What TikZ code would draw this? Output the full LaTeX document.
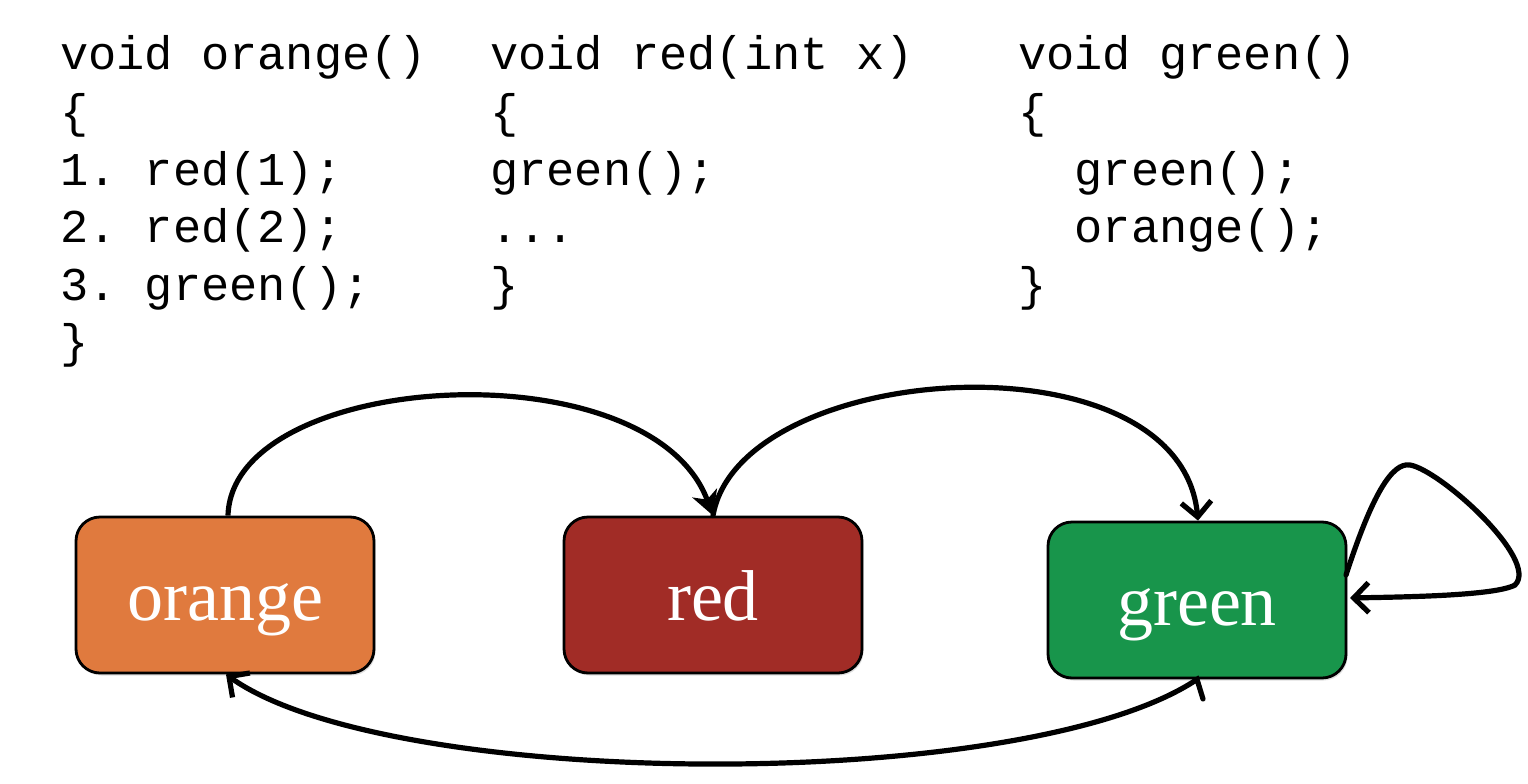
\documentclass[tikz,border=0pt]{standalone}
\usepackage{fontspec}
\setmonofont{Liberation Mono}
\newfontfamily\labelfont{Liberation Serif}
\usetikzlibrary{arrows.meta,shadows}
\definecolor{corange}{HTML}{E07A3E}
\definecolor{cred}{HTML}{A12C26}
\definecolor{cgreen}{HTML}{18954B}
\begin{document}
\begin{tikzpicture}[x=1pt,y=-1pt,
  codeline/.style={anchor=base west, inner sep=0pt, font=\ttfamily\fontsize{47}{58}\selectfont},
  fnbox/.style={draw=black, line width=2.8pt, rounded corners=24pt, minimum width=298pt, minimum height=156pt,
    text=white, font=\labelfont\fontsize{72}{80}\selectfont, text height=60pt, text depth=10pt,
    drop shadow={shadow xshift=1.5pt, shadow yshift=-2.5pt, opacity=0.25}},
  callarrow/.style={line width=5.2pt, line cap=round, -{Straight Barb[length=15pt,width=30pt,line width=5.2pt]}},
  callarrowfill/.style={line width=5.2pt, -{Stealth[length=24pt,width=26pt,inset=7pt]}}
]
\useasboundingbox (0,0) rectangle (1528,784);
% code column 1
\node[codeline] (a1) at (60,70) {void orange()};
\node[codeline] (a2) at (60,127.5) {\{};
\node[codeline] (a3) at (60,185) {1. red(1);};
\node[codeline] (a4) at (60,242.5) {2. red(2);};
\node[codeline] (a5) at (60,300) {3. green();};
\node[codeline] (a6) at (60,357.5) {\}};
% code column 2
\node[codeline] (b1) at (490,70) {void red(int x)};
\node[codeline] (b2) at (490,127.5) {\{};
\node[codeline] (b3) at (490,185) {green();};
\node[codeline] (b4) at (490,242.5) {...};
\node[codeline] (b5) at (490,300) {\}};
% code column 3
\node[codeline] (c1) at (1018,70) {void green()};
\node[codeline] (c2) at (1018,127.5) {\{};
\node[codeline] (c3) at (1018,185) {\ \ green();};
\node[codeline] (c4) at (1018,242.5) {\ \ orange();};
\node[codeline] (c5) at (1018,300) {\}};
% boxes
\node[fnbox, fill=corange] (orange) at (225,595) {orange};
\node[fnbox, fill=cred] (red) at (713,595) {red};
\node[fnbox, fill=cgreen] (green) at (1197,600) {green};
% arrows
\draw[callarrowfill] ([xshift=3pt]orange.north) .. controls (232,370) and (650,345) .. (red.north);
\draw[callarrow] (red.north) .. controls (740,360) and (1180,330) .. ([xshift=1pt]green.north);
\coordinate (gtick) at (1203,699);
\draw[callarrow] (gtick) -- (green.south) .. controls (1026,794) and (390,791) .. ([xshift=1pt]orange.south);
\coordinate (loopA) at (1346,575);
\coordinate (loopB) at (1350,598);
\draw[callarrow] (loopA) .. controls (1372,495) and (1392,462) .. (1410,465)
  .. controls (1440,470) and (1540,560) .. (1515,585)
  .. controls (1495,596) and (1400,597) .. (loopB);
\end{tikzpicture}
\end{document}
